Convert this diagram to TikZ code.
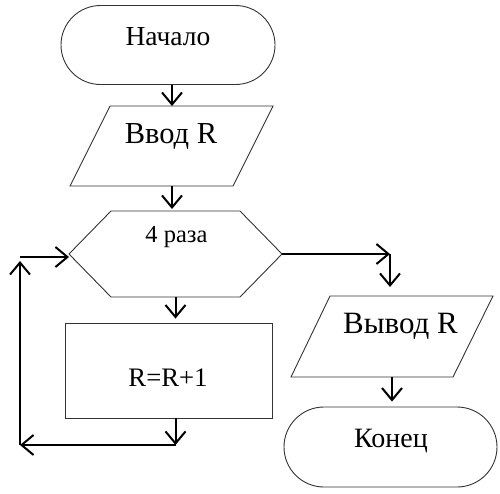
\documentclass[tikz,border=0pt]{standalone}
\usepackage{fontspec}
\setmainfont{Liberation Serif}
\usetikzlibrary{shapes.misc, arrows.meta}

\begin{document}
\begin{tikzpicture}[x=1pt, y=-1pt, >={Straight Barb[length=12pt,width=20pt]},
  blockbox/.style={draw=black!80, line width=0.9pt, inner sep=0pt},
  term/.style={blockbox, rounded rectangle, minimum width=214pt, minimum height=79pt},
  lbl/.style={anchor=base, inner sep=0pt},
  conn/.style={->, line width=2pt}]
  \useasboundingbox (0,0) rectangle (500,493);

  % shapes
  \node[term] (start) at (168,45) {};
  \draw[blockbox] (110,106) -- (273,106) -- (233,186) -- (70,186) -- cycle;
  \draw[blockbox] (111,211) -- (240,211) -- (282,254) coordinate (loop-e) -- (240,297)
    -- (111,297) -- (69,254) coordinate (loop-w) -- cycle;
  \node[blockbox, minimum width=207pt, minimum height=95pt] (body) at (168.5,370.5) {};
  \draw[blockbox] (330,296) -- (493,296) -- (453,377) -- (291,377) -- cycle;
  \node[term, minimum width=213pt, minimum height=80pt] (end) at (390.5,447) {};
  \coordinate (input-n) at (172,106);
  \coordinate (input-s) at (172,186);
  \coordinate (loop-n) at (175.5,211);
  \coordinate (loop-s) at (175.5,297);
  \coordinate (output-n) at (392,296);
  \coordinate (output-s) at (392,377);

  % texts
  \node[lbl, font=\fontsize{27.5}{33}\selectfont] (tStart) at (168,45) {Начало};
  \node[lbl, font=\fontsize{30.5}{37}\selectfont] (tInput) at (171,143) {Ввод R};
  \node[lbl, font=\fontsize{24.5}{29}\selectfont] (tLoop) at (176.5,242) {4 раза};
  \node[lbl, font=\fontsize{26.7}{32}\selectfont] (tBody) at (168,386) {R=R+1};
  \node[lbl, font=\fontsize{31}{37}\selectfont] (tOutput) at (400.5,333) {Вывод R};
  \node[lbl, font=\fontsize{28}{34}\selectfont] (tEnd) at (391,447) {Конец};

  % connectors
  \coordinate (c1) at (175.5,445);
  \coordinate (c2) at (20,445);
  \coordinate (c3) at (20,257);
  \coordinate (c4) at (390,254);
  \draw[conn] (input-n |- start.south) -- (input-n);
  \draw[conn, shorten >=2pt] (input-s) -- (input-s |- loop-n);
  \draw[conn, shorten >=4pt] (loop-s) -- (loop-s |- body.north);
  \draw[conn] (c1 |- body.south) -- (c1);
  \draw[conn] (c1) -- (c2);
  \draw[conn, shorten >=4pt] (c2) -- (c3);
  \draw[conn] (c3) -- (c3 -| loop-w);
  \draw[conn] (loop-e) -- (c4);
  \draw[conn, shorten >=9pt] (c4) -- (c4 |- output-n);
  \draw[conn, shorten >=5pt] (output-s) -- (output-s |- end.north);
\end{tikzpicture}
\end{document}
